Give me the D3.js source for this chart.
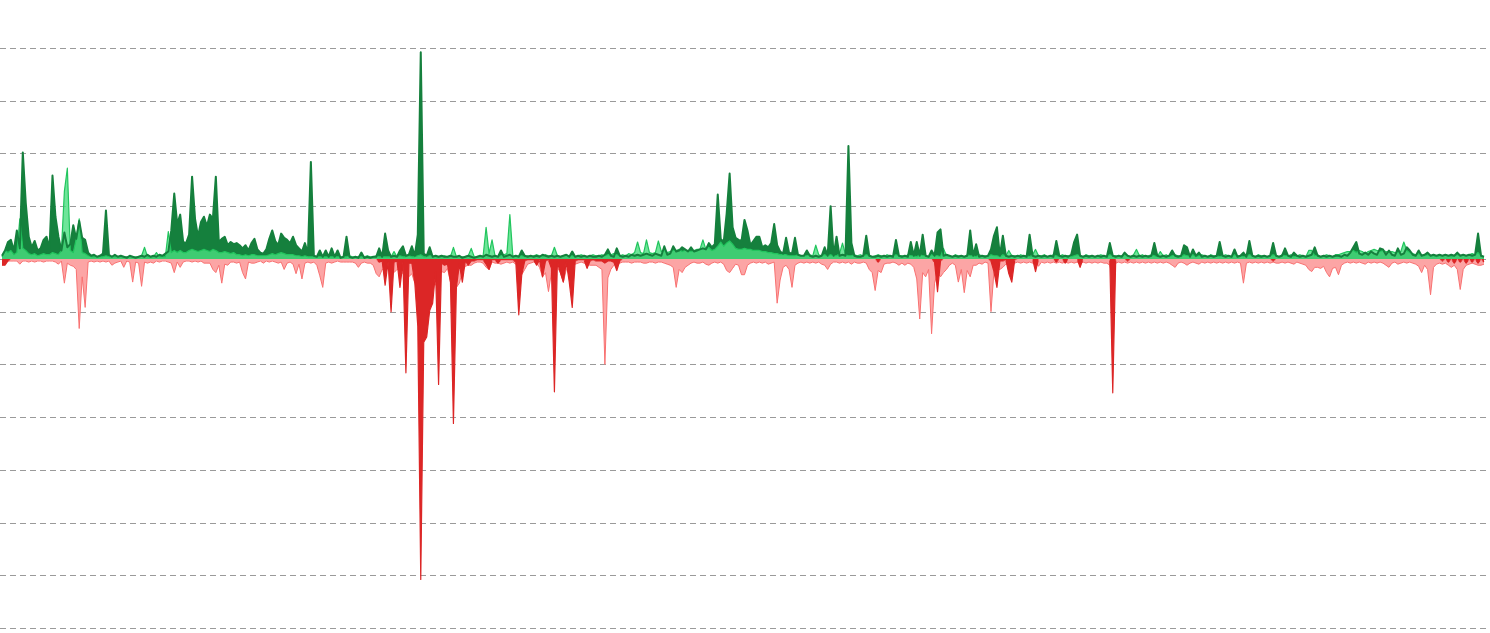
<!DOCTYPE html>
<html>
<head>
<meta charset="utf-8">
<script src="https://cdn.jsdelivr.net/npm/d3@7"></script>
<style>
  html, body { margin: 0; padding: 0; background: #ffffff; }
  svg { display: block; }
</style>
</head>
<body>
<svg id="chart" width="1490" height="633"></svg>
<script>
// ---- DATA (one value per sample, 500 samples) ----
const yTicks = [-350, -300, -250, -200, -150, -100, -50, 0, 50, 100, 150, 200];

const darkGreen = [
  3,8,16,18,8,27,10,101,53,21, 11,17,8,10,18,21,10,79,40,21, 8,25,11,14,32,19,36,20,18,6, 3,4,2,3,5,46,4,2,4,2, 3,2,1,3,2,1,2,3,2,4,
  2,3,2,4,3,5,7,27,62,33, 42,16,15,23,78,38,21,35,40,31, 42,38,78,16,19,21,13,16,14,15, 13,10,13,8,15,19,9,6,5,9, 19,27,17,13,24,20,18,15,21,13,
  10,7,15,5,92,3,2,8,2,8, 2,10,2,8,1,2,21,2,1,2, 1,6,1,2,1,2,2,10,2,24, 8,2,3,2,8,12,3,4,12,3, 23,196,5,3,11,2,3,2,3,2,
  2,3,2,2,3,1,2,3,2,1, 2,3,2,4,3,2,3,2,8,2, 3,4,2,3,2,8,3,2,3,2, 3,2,4,3,2,3,2,3,2,3, 4,2,7,2,3,2,3,2,3,2,
  2,3,2,4,9,3,2,10,3,2, 3,2,4,3,4,3,4,5,4,3, 5,4,3,12,4,5,12,7,8,11, 9,7,11,7,8,9,10,9,15,11, 14,61,19,16,43,81,30,20,18,17,
  37,27,13,17,21,21,11,13,11,15, 33,13,7,5,20,6,5,20,4,3, 3,8,3,2,3,2,3,11,3,50, 3,21,3,4,3,107,15,3,2,2, 3,22,3,2,2,3,2,3,2,3,
  2,18,3,2,3,2,16,3,16,3, 23,3,2,8,3,25,28,3,4,3, 2,3,2,3,2,3,27,3,14,2, 3,2,3,9,22,30,3,22,3,2, 3,2,3,2,3,2,23,3,2,3,
  2,3,2,3,2,17,3,2,3,2, 4,16,23,3,2,3,2,3,2,3, 2,3,2,15,3,2,3,2,6,3, 2,3,2,3,2,3,2,3,15,3, 2,3,2,3,8,3,2,3,13,11,
  2,9,3,6,2,3,2,3,2,3, 16,3,2,3,2,9,2,3,6,2, 17,3,2,3,2,3,2,3,15,3, 2,3,10,3,2,6,3,2,3,2, 3,4,11,3,2,3,2,3,2,3,
  3,2,4,3,6,11,16,5,4,6, 4,7,5,4,10,9,4,8,4,3, 10,4,5,11,8,4,3,8,3,4, 6,3,4,3,4,3,4,3,4,3, 6,3,4,3,4,3,4,24,3,2
];

const lightGreen = [
  2,8,6,8,4,6,38,10,8,5, 4,5,3,4,5,4,4,6,5,4, 8,64,86,8,6,19,38,6,5,3, 2,2,2,2,2,3,2,2,2,2, 2,2,2,2,2,2,2,3,11,2,
  2,2,6,2,2,2,26,6,8,6, 8,6,6,8,9,8,7,8,9,8, 7,9,8,6,6,7,6,5,6,4, 4,3,4,3,4,4,3,3,3,3, 4,5,4,5,6,5,4,4,4,3,
  3,2,3,2,2,2,2,2,2,2, 2,2,2,2,2,2,2,3,2,2, 2,2,2,3,2,2,3,2,2,2, 2,2,7,2,3,2,2,3,2,2, 3,4,2,2,3,3,2,2,2,3,
  2,2,11,2,2,2,2,3,10,2, 2,2,3,30,5,18,3,2,3,4, 5,42,3,2,3,3,2,3,2,3, 4,3,2,4,3,3,11,3,2,3, 4,3,3,2,3,4,3,2,3,4,
  3,3,4,3,4,4,5,4,3,4, 3,5,4,6,16,6,5,18,6,5, 6,17,7,8,6,7,8,8,9,7, 8,8,7,8,9,9,18,9,11,8, 9,12,16,12,15,17,14,10,9,9,
  10,9,9,8,8,8,7,7,6,6, 5,5,4,4,4,3,3,3,4,3, 3,3,4,3,13,4,3,4,3,4, 3,3,5,15,4,3,3,4,3,4, 3,4,3,2,3,4,3,2,4,3,
  3,4,3,3,2,4,3,3,2,4, 3,3,2,4,3,3,2,10,3,3, 2,4,3,3,2,4,3,3,2,4, 3,3,2,4,3,3,2,4,3,8, 3,3,2,4,3,3,2,4,9,3,
  3,4,2,3,4,3,2,4,3,3, 2,3,4,3,2,4,3,3,2,3, 4,3,2,4,3,3,2,3,4,3, 2,4,9,3,4,2,3,4,3,2, 7,3,4,2,3,4,3,2,4,3,
  3,4,2,3,4,3,2,4,3,3, 2,3,4,3,2,4,3,3,2,3, 4,3,2,4,3,3,2,3,4,3, 2,4,3,3,4,2,3,4,3,2, 8,8,3,4,2,3,4,3,2,4,
  4,5,6,7,7,8,6,8,7,5, 7,8,9,8,7,8,7,6,7,6, 6,7,16,8,6,5,4,5,4,3, 4,3,3,2,3,3,4,3,2,3, 4,3,4,3,4,5,4,6,3,2
];

// negative series, stored as magnitudes below zero
const lightRed = [
  2,3,2,2,2,2,5,2,2,3, 2,3,2,2,3,2,2,2,3,5, 2,23,4,6,7,10,66,17,46,3, 2,3,2,3,2,3,2,6,4,3, 2,8,2,3,22,3,4,26,3,4,
  3,4,2,3,2,2,3,4,13,3, 8,3,2,2,3,2,3,2,4,4, 4,10,13,6,23,5,6,3,3,4, 3,13,19,3,4,4,3,2,4,2, 3,2,3,4,3,10,4,3,5,14,
  5,19,4,3,4,3,6,16,27,4, 3,4,3,2,3,3,3,3,3,4, 8,4,3,4,4,6,14,17,10,11, 8,13,13,10,11,14,17,17,14,23, 19,24,27,28,24,20,25,17,12,13,
  9,22,10,27,23,12,7,6,6,4, 3,3,4,8,10,3,4,4,5,4, 3,4,3,5,6,15,10,5,4,3, 4,8,17,13,31,13,10,8,13,22, 10,8,6,5,4,3,4,5,6,6,
  6,8,10,100,18,10,6,5,4,3, 3,3,4,3,3,3,4,4,3,3, 4,3,3,4,5,6,8,27,10,13, 8,6,4,3,4,4,3,5,6,4, 3,4,3,5,11,13,9,5,6,15,
  15,6,4,3,4,3,4,3,5,4, 3,42,20,8,6,10,27,6,4,3, 4,3,4,3,4,3,5,6,10,5, 3,3,4,3,4,3,5,3,4,4, 3,4,10,13,30,11,13,5,4,4,
  3,4,6,4,6,4,5,8,19,57, 13,17,10,71,23,13,17,13,10,6, 4,6,22,10,32,11,17,6,6,4, 5,3,4,50,12,10,10,8,5,4, 3,4,3,4,3,4,3,4,3,7,
  3,4,3,4,3,4,3,4,3,4, 3,4,3,5,3,4,3,4,3,4, 3,4,4,6,20,4,3,4,3,4, 3,4,3,4,3,4,3,4,3,4, 3,4,3,4,6,8,4,3,4,6,
  4,3,4,5,3,4,3,4,3,4, 3,4,3,4,3,4,3,4,23,4, 3,4,3,4,3,4,3,4,3,4, 4,3,4,3,4,5,3,4,5,6, 10,12,8,8,9,7,13,17,9,8,
  15,6,4,3,4,3,4,3,4,5, 3,4,3,4,3,4,6,8,4,3, 5,4,3,4,3,4,5,7,13,6, 10,34,8,5,4,5,4,6,8,6, 10,29,10,6,5,4,5,6,6,5
];

const darkRed = [
  6,6,2,0,0,0,0,0,0,0, 0,0,0,0,0,0,0,0,0,0, 0,0,0,0,0,0,0,0,0,0, 0,0,0,0,0,0,0,0,0,0, 0,0,0,0,0,0,0,0,0,0,
  0,0,0,0,0,0,0,0,0,0, 0,0,0,0,0,0,0,0,0,0, 0,0,0,0,0,0,0,0,0,0, 0,0,0,0,0,0,0,0,0,0, 0,0,0,0,0,0,0,0,0,0,
  0,0,0,0,0,0,0,0,0,0, 0,0,0,0,0,0,0,0,0,0, 0,0,0,0,0,0,0,3,2,25, 3,50,3,2,27,3,108,4,4,23, 64,304,79,74,49,42,12,119,4,6,
  5,22,156,27,5,22,2,6,2,2, 1,1,1,5,10,1,1,4,1,1, 1,1,1,3,53,15,2,1,1,1, 6,1,17,2,1,9,126,3,13,22, 3,22,46,2,1,1,1,9,2,1,
  2,2,2,4,2,2,3,11,2,0, 0,0,0,0,0,0,0,0,0,0, 0,0,0,0,0,0,0,0,0,0, 0,0,0,0,0,0,0,0,0,0, 0,0,0,0,0,0,0,0,0,0,
  0,0,0,0,0,0,0,0,0,0, 0,0,0,0,0,0,0,0,0,0, 0,0,0,0,0,0,0,0,0,0, 0,0,0,0,0,0,0,0,0,0, 0,0,0,0,0,3,0,0,0,0,
  0,0,0,0,0,0,0,0,0,0, 0,0,0,0,3,31,2,0,0,0, 0,0,0,0,0,0,0,0,0,0, 0,0,0,2,12,27,2,2,1,14, 22,1,0,0,0,0,0,0,12,0,
  0,0,0,0,0,3,0,0,4,0, 0,0,0,8,0,0,0,0,0,0, 0,0,0,0,127,0,0,0,0,2, 0,0,0,0,0,0,0,0,0,0, 0,0,0,0,0,0,0,0,0,0,
  0,0,0,0,0,0,0,0,0,0, 0,0,0,0,0,0,0,0,0,0, 0,0,0,0,0,0,0,0,2,0, 0,0,0,0,0,0,0,0,0,0, 0,0,0,0,0,0,0,0,0,0,
  0,0,0,0,0,0,0,0,0,0, 0,0,0,0,0,0,0,0,0,0, 0,0,0,0,0,0,0,0,0,0, 0,0,0,0,0,2,0,3,0,4, 0,3,0,4,0,3,0,4,0,3
];

// ---- DRAWING ----
const W = 1490, H = 633;
const svg = d3.select("#chart");
const N = darkGreen.length;

const x = d3.scaleLinear().domain([0, N - 1]).range([2, 1484]);
const y = d3.scaleLinear().domain([-350, 200]).range([628, 48]);

// gridlines
svg.append("g").attr("class", "grid")
  .selectAll("line").data(yTicks).join("line")
  .attr("x1", 0).attr("x2", 1486)
  .attr("y1", d => Math.round(y(d)) + 0.5)
  .attr("y2", d => Math.round(y(d)) + 0.5)
  .attr("stroke", "#9a9a9a")
  .attr("stroke-width", 1)
  .attr("stroke-dasharray", "6,4");

const defs = svg.append("defs");
defs.append("clipPath").attr("id", "below")
  .append("rect").attr("x", 0).attr("y", y(0) + 1.5).attr("width", W).attr("height", H);

const areaOf = (sign) => d3.area()
  .x((d, i) => x(i))
  .y0(y(0))
  .y1(d => y(sign * d));
const lineOf = (sign) => d3.line()
  .x((d, i) => x(i))
  .y(d => y(sign * d));

// light red (negative)
svg.append("path").datum(lightRed)
  .attr("d", areaOf(-1))
  .attr("fill", "#fca5a5");
svg.append("path").datum(lightRed)
  .attr("d", lineOf(-1))
  .attr("fill", "none")
  .attr("stroke", "#f87171")
  .attr("stroke-width", 1)
  .attr("stroke-linejoin", "round")
  .attr("clip-path", "url(#below)");

// dark red (negative)
svg.append("path").datum(darkRed)
  .attr("d", areaOf(-1))
  .attr("fill", "#dc2626");
svg.append("path").datum(darkRed)
  .attr("d", lineOf(-1))
  .attr("fill", "none")
  .attr("stroke", "#dc2626")
  .attr("stroke-width", 1.2)
  .attr("stroke-linejoin", "round")
  .attr("clip-path", "url(#below)");

// dark green area
svg.append("path").datum(darkGreen)
  .attr("d", areaOf(1))
  .attr("fill", "#15803d");

// light green
svg.append("path").datum(lightGreen)
  .attr("d", areaOf(1))
  .attr("fill", "#4ade80")
  .attr("fill-opacity", 0.8);
svg.append("path").datum(lightGreen)
  .attr("d", lineOf(1))
  .attr("fill", "none")
  .attr("stroke", "#22c55e")
  .attr("stroke-width", 1.2)
  .attr("stroke-linejoin", "round");

// dark green line on top
svg.append("path").datum(darkGreen)
  .attr("d", lineOf(1))
  .attr("fill", "none")
  .attr("stroke", "#15803d")
  .attr("stroke-width", 2)
  .attr("stroke-linejoin", "round");
</script>
</body>
</html>
